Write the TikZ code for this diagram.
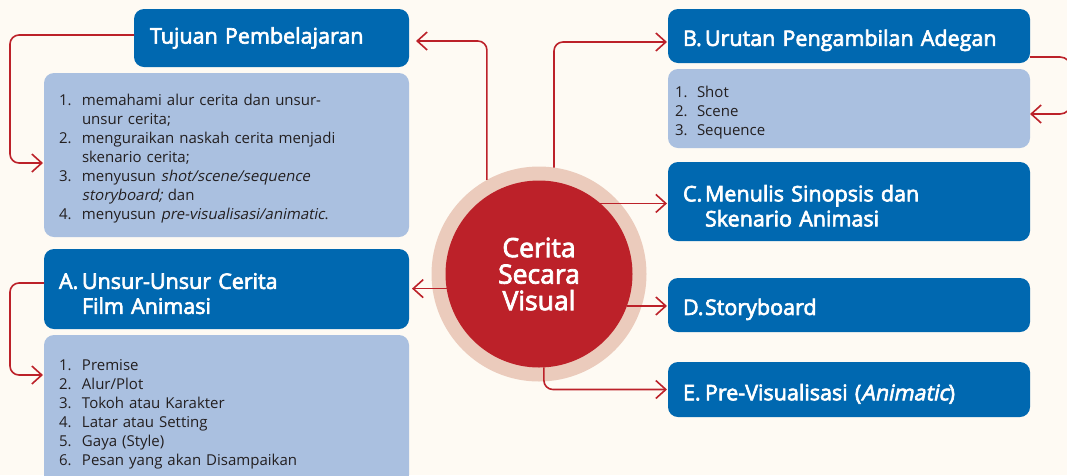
\documentclass[tikz,border=0pt]{standalone}
\usepackage{fontspec}
\setmainfont{Open Sans}[AutoFakeBold=3, AutoFakeSlant=0.2]
\usetikzlibrary{arrows.meta}
\definecolor{bg}{HTML}{FEFAF3}
\definecolor{dblue}{HTML}{0068B0}
\definecolor{lblue}{HTML}{AAC0E0}
\definecolor{cred}{HTML}{BC2129}
\definecolor{ringc}{HTML}{EBCBBC}
\definecolor{ltext}{HTML}{231F20}
\newcommand{\hitem}[3]{\par\hangindent=#1\hangafter=1\noindent\makebox[#1][l]{#2}#3\par}
\tikzset{
  headbox/.style={rounded corners=10pt, fill=dblue, text=white,
    font=\fontsize{21.5}{25}\selectfont\bfseries, anchor=north west,
    align=left, inner ysep=0pt, outer sep=0pt},
  listbox/.style={rounded corners=10pt, fill=lblue, text=ltext,
    font=\fontsize{15}{19}\selectfont, anchor=north west,
    align=left, inner ysep=0pt, outer sep=0pt},
  conn/.style={draw=cred, line width=1.6pt, rounded corners=9pt,
    -{Straight Barb[length=10pt,width=18pt]}}
}
\begin{document}
\begin{tikzpicture}[x=1pt,y=-1pt]
\useasboundingbox (0,0) rectangle (1067,475);
\fill[bg] (0,0) rectangle (1067,475);

% central circle
\node[circle, fill=ringc, minimum size=215pt, inner sep=0pt, outer sep=0pt] (ring) at (539,274) {};
\node[circle, fill=cred, minimum size=187pt, inner sep=0pt, outer sep=0pt,
  text=white, font=\fontsize{26.5}{26.5}\selectfont\bfseries, align=center] (cv) at (539,274) {Cerita\\Secara\\Visual};

% left side
\node[headbox, inner xsep=16pt, text width=243pt, minimum height=58pt] (tj) at (134,9) {Tujuan Pembelajaran};
\node[listbox, inner xsep=15pt, text width=335pt, minimum height=164pt] (tjl) at (44,73) {%
\hitem{23pt}{1.}{memahami alur cerita dan unsur-\newline unsur cerita;}
\hitem{23pt}{2.}{menguraikan naskah cerita menjadi\newline skenario cerita;}
\hitem{23pt}{3.}{menyusun \textit{shot/scene/sequence}\newline \textit{storyboard;} dan}
\hitem{23pt}{4.}{menyusun \textit{pre-visualisasi/animatic}.}};

\node[headbox, inner xsep=15pt, text width=335pt, minimum height=80pt] (aa) at (44,249) {%
\hitem{23pt}{A.}{Unsur-Unsur Cerita\newline Film Animasi}};
\node[listbox, inner xsep=15pt, text width=335pt, minimum height=150pt] (aal) at (44,335) {%
\hitem{23pt}{1.}{Premise}
\hitem{23pt}{2.}{Alur/Plot}
\hitem{23pt}{3.}{Tokoh atau Karakter}
\hitem{23pt}{4.}{Latar atau Setting}
\hitem{23pt}{5.}{Gaya (Style)}
\hitem{23pt}{6.}{Pesan yang akan Disampaikan}};

% right side
\node[headbox, inner xsep=15pt, text width=332pt, minimum height=54pt] (bb) at (668,9) {%
\hitem{22pt}{B.}{Urutan Pengambilan Adegan}};
\node[listbox, inner xsep=7pt, text width=348pt, minimum height=79pt] (bbl) at (668,69) {%
\hitem{22pt}{1.}{Shot}
\hitem{22pt}{2.}{Scene}
\hitem{22pt}{3.}{Sequence}};
\node[headbox, inner xsep=15pt, text width=332pt, minimum height=79pt] (cc) at (668,162) {%
\hitem{22pt}{C.}{Menulis Sinopsis dan\newline Skenario Animasi}};
\node[headbox, inner xsep=15pt, text width=332pt, minimum height=54pt] (dd) at (668,278) {%
\hitem{22pt}{D.}{Storyboard}};
\node[headbox, inner xsep=15pt, text width=332pt, minimum height=55pt] (ee) at (668,362) {%
\hitem{22pt}{E.}{Pre-Visualisasi (\textit{Animatic})}};

% helper coordinates
\coordinate (lx) at (10,0);
\coordinate (y163) at (0,163);
\coordinate (y375) at (0,375);
\coordinate (y41) at (0,41);
\coordinate (y42) at (0,42);
\coordinate (rx) at (1071,0);
\coordinate (y57) at (0,57);
\coordinate (y114) at (0,114);
\coordinate (y35) at (0,35);
\coordinate (y283) at (0,283);

% connectors
\draw[conn] (tj.west |- y35) -- (lx |- y35) -- (lx |- y163) -- ([xshift=-1pt]tjl.west |- y163);
\draw[conn, shorten >=7pt] (ring.119.5) -- (ring.119.5 |- y41) -- (tj.east |- y41);
\draw[conn] (aa.west |- y283) -- (lx |- y283) -- (lx |- y375) -- ([xshift=-1pt]aal.west |- y375);
\draw[conn, shorten >=3pt] (cv.189.8) -- (aa.east |- cv.189.8);
\draw[conn, shorten >=1pt] (ring.82.5) -- (ring.82.5 |- y42) -- (bb.west |- y42);
\draw[conn, rounded corners=11pt] (bb.east |- y57) -- (rx |- y57) -- (rx |- y114) -- (bbl.east |- y114);
\draw[conn, shorten >=1pt] (cv.49.4) -- (cc.west |- cv.49.4);
\draw[conn, shorten >=1pt] (cv.-20.7) -- (dd.west |- cv.-20.7);
\draw[conn, shorten >=1pt] (cv.-87.5) -- (cv.-87.5 |- ee.west) -- (ee.west);
\end{tikzpicture}
\end{document}
